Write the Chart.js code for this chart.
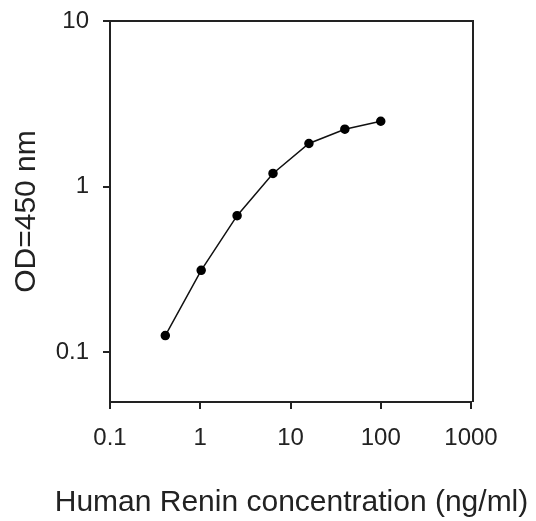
<!DOCTYPE html>
<html>
<head>
<meta charset="utf-8">
<script src="https://cdn.jsdelivr.net/npm/chart.js@4/dist/chart.umd.min.js"></script>
<style>
  body { margin: 0; background: #fff; }
  #grafica { display: block; }
</style>
</head>
<body>
<canvas id="grafica" width="536" height="521"></canvas>
<script>
const concentraciones = [0.41, 1.024, 2.56, 6.4, 16, 40, 100];
const densidadOptica = [0.126, 0.312, 0.667, 1.2, 1.82, 2.22, 2.48];
const ticksX = [0.1, 1, 10, 100, 1000];
const etiquetasX = ['0.1', '1', '10', '100', '1000'];
const ticksY = [0.1, 1, 10];
const etiquetasY = ['0.1', '1', '10'];
const tituloX = 'Human Renin concentration (ng/ml)';
const tituloY = 'OD=450 nm';

const puntos = concentraciones.map((c, i) => ({ x: c, y: densidadOptica[i] }));

// marco superior y derecho + titulo del eje x (mas ancho que el area del grafico)
const marco = {
    id: 'marco',
    afterDraw(chart) {
        const a = chart.chartArea;
        const ctx = chart.ctx;
        ctx.save();
        ctx.strokeStyle = '#222';
        ctx.lineWidth = 2;
        ctx.beginPath();
        ctx.moveTo(a.left - 7, a.top);
        ctx.lineTo(a.right + 2, a.top);
        ctx.lineTo(a.right + 2, a.bottom);
        ctx.stroke();

        ctx.fillStyle = '#222';
        ctx.font = '30px "Liberation Sans", Arial, sans-serif';
        ctx.textAlign = 'center';
        ctx.textBaseline = 'alphabetic';
        ctx.fillText(tituloX, (a.left + a.right) / 2 + 1, 511);
        ctx.restore();
    }
};

const config = {
    type: 'line',
    data: {
        datasets: [{
            data: puntos,
            borderColor: '#111',
            backgroundColor: '#000',
            borderWidth: 1.5,
            pointRadius: 4,
            pointBackgroundColor: '#000',
            pointBorderColor: '#000',
            tension: 0
        }]
    },
    options: {
        responsive: false,
        animation: false,
        layout: { padding: { left: 0, right: 65, top: 21, bottom: 0 } },
        plugins: {
            legend: { display: false },
            tooltip: { enabled: false }
        },
        scales: {
            x: {
                type: 'logarithmic',
                min: 0.1,
                max: 1000,
                afterBuildTicks: (s) => { s.ticks = ticksX.map(v => ({ value: v })); },
                afterFit: (s) => { s.height = 119; s.paddingLeft = 0; s.paddingRight = 0; },
                ticks: {
                    color: '#222',
                    font: { family: 'Liberation Sans', size: 24 },
                    padding: 15,
                    maxRotation: 0,
                    callback: (v, i) => etiquetasX[i]
                },
                grid: { drawOnChartArea: false, drawTicks: true, tickLength: 7, color: '#222', lineWidth: 2 },
                border: { display: true, color: '#222', width: 2 },
                title: { display: false }
            },
            y: {
                type: 'logarithmic',
                min: 0.05,
                max: 10,
                afterBuildTicks: (s) => { s.ticks = ticksY.map(v => ({ value: v })); },
                afterFit: (s) => { s.width = 110; s.paddingTop = 0; s.paddingBottom = 0; },
                ticks: {
                    color: '#222',
                    font: { family: 'Liberation Sans', size: 24 },
                    padding: 14,
                    callback: (v, i) => etiquetasY[i]
                },
                grid: { drawOnChartArea: false, drawTicks: true, tickLength: 7, color: '#222', lineWidth: 2 },
                border: { display: true, color: '#222', width: 2 },
                title: {
                    display: true,
                    text: tituloY,
                    color: '#222',
                    font: { family: 'Liberation Sans', size: 30 },
                    padding: { top: 9, bottom: 0 }
                }
            }
        }
    },
    plugins: [marco]
};

new Chart(document.getElementById('grafica').getContext('2d'), config);
</script>
</body>
</html>
